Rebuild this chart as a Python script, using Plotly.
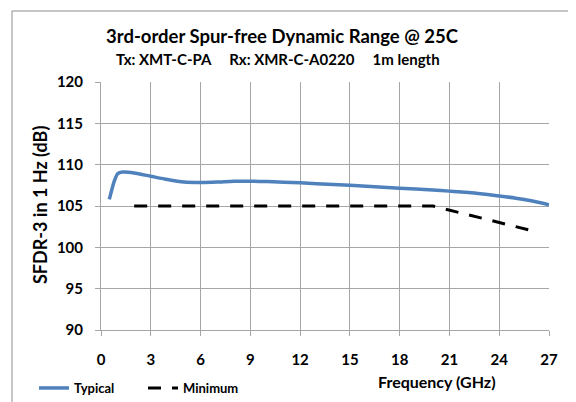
import plotly.graph_objects as go

# Data
typ_freq = [0.5, 0.8, 1.0, 1.3, 2, 3, 4, 5, 6, 7, 8, 9, 10, 12, 14, 16, 18, 20, 21, 22, 24, 25, 26, 27]
typ_sfdr = [105.8, 108.0, 108.9, 109.1, 109.0, 108.6, 108.2, 107.9, 107.85, 107.9, 108.0, 108.0, 107.95,
            107.8, 107.6, 107.4, 107.15, 106.95, 106.8, 106.65, 106.2, 105.95, 105.6, 105.15]
min_freq = [2, 20, 26.2]
min_sfdr = [105, 105, 101.9]
x_ticks = [0, 3, 6, 9, 12, 15, 18, 21, 24, 27]
y_ticks = [90, 95, 100, 105, 110, 115, 120]

FONT = "Lato"
OFF = 8  # page body margin
W, H = 576 - OFF, 402 - OFF
L, R, T, B = 101 - OFF, 27, 82 - OFF, 72
pw, ph = W - L - R, H - T - B

def px_x(p):
    return (p - OFF - L) / pw

def px_y(p):
    return (H - B - (p - OFF)) / ph

fig = go.Figure()
fig.add_trace(go.Scatter(x=typ_freq, y=typ_sfdr, mode="lines", name="Typical",
                         line=dict(color="#4f81bd", width=3.5, shape="spline", smoothing=0.6)))
fig.add_trace(go.Scatter(x=min_freq, y=min_sfdr, mode="lines", name="Minimum",
                         line=dict(color="black", width=3, dash="13px,11px")))

grid = "#a6a6a6"
tickfont = dict(family=FONT, size=15, color="black", weight="bold")
fig.update_xaxes(range=[0, 27], tickvals=x_ticks, ticktext=[str(v) for v in x_ticks],
                 showgrid=True, gridcolor=grid, gridwidth=1, showline=True, linecolor=grid,
                 ticks="outside", ticklen=5, tickcolor=grid, zeroline=False,
                 tickfont=tickfont, ticklabelstandoff=11)
fig.update_yaxes(range=[90, 120], tickvals=y_ticks,
                 showgrid=True, gridcolor=grid, gridwidth=1, showline=True, linecolor=grid,
                 ticks="outside", ticklen=5, tickcolor=grid, zeroline=False,
                 tickfont=tickfont, ticklabelstandoff=9)

annos = [
    dict(text="<b>3rd-order Spur-free Dynamic Range @ 25C</b>", x=px_x(282), y=px_y(36),
         font=dict(family=FONT, size=18.5, color="black")),
    dict(text="<b>Tx: XMT-C-PA&nbsp;&nbsp;&nbsp;&nbsp;&nbsp;Rx: XMR-C-A0220&nbsp;&nbsp;&nbsp;&nbsp;&nbsp;1m length</b>",
         x=px_x(278), y=px_y(59), font=dict(family=FONT, size=15, color="black")),
    dict(text="<b>SFDR-3 in 1 Hz (dB)</b>", x=px_x(40), y=px_y(205), textangle=-90,
         font=dict(family=FONT, size=18, color="black")),
    dict(text="<b>Frequency (GHz)</b>", x=px_x(437), y=px_y(381),
         font=dict(family=FONT, size=16, color="black")),
]
for a in annos:
    a.update(xref="paper", yref="paper", showarrow=False, xanchor="center", yanchor="middle")

fig.update_layout(
    width=W, height=H,
    margin=dict(l=L, r=R, t=T, b=B, autoexpand=False),
    paper_bgcolor="white", plot_bgcolor="white",
    annotations=annos,
    showlegend=True,
    legend=dict(orientation="h", x=px_x(34), y=px_y(388), xanchor="left", yanchor="middle",
                font=dict(family=FONT, size=13, color="black", weight="bold"), bgcolor="rgba(0,0,0,0)",
                entrywidth=64, entrywidthmode="pixels", itemwidth=30, tracegroupgap=0),
    shapes=[
        dict(type="line", xref="paper", yref="paper", x0=px_x(12), x1=px_x(600), y0=px_y(11), y1=px_y(11),
             line=dict(color="#8c8c8c", width=1)),
        dict(type="line", xref="paper", yref="paper", x0=px_x(12), x1=px_x(12), y0=px_y(11), y1=px_y(420),
             line=dict(color="#8c8c8c", width=1)),
    ],
)

fig.write_html("out.html")
